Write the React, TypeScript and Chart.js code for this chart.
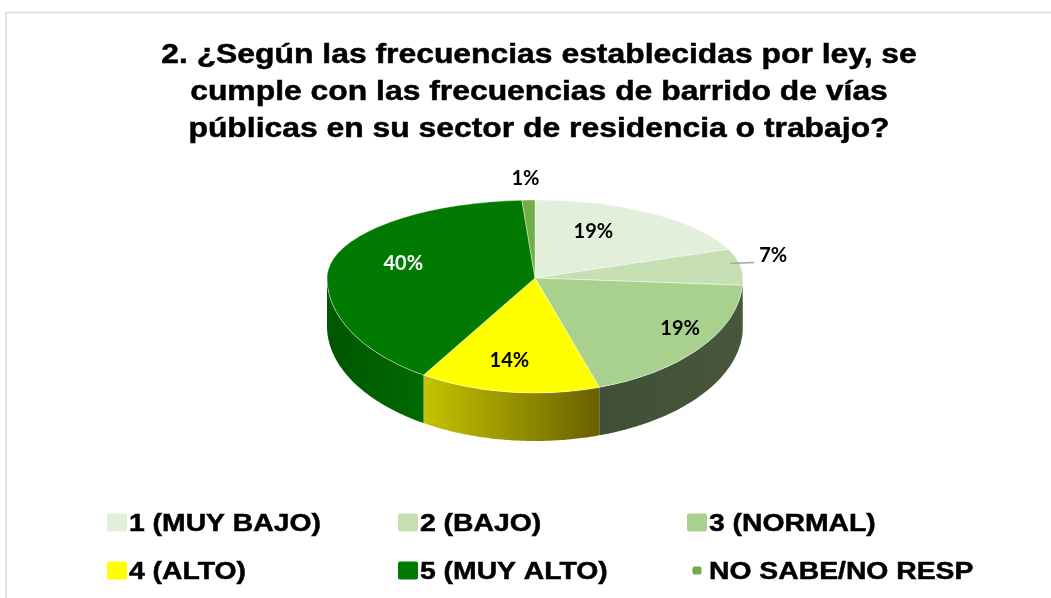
import React, { useEffect, useRef } from "react";
import { Chart, registerables } from "chart.js";

Chart.register(...registerables);

// ---------- data ----------
const TITLE_LINES = [
  "2. ¿Según las frecuencias establecidas por ley, se",
  "cumple con las frecuencias de barrido de vías",
  "públicas en su sector de residencia o trabajo?",
];
const categories = [
  "1 (MUY BAJO)",
  "2 (BAJO)",
  "3 (NORMAL)",
  "4 (ALTO)",
  "5 (MUY ALTO)",
  "NO SABE/NO RESP",
];
const percentages = [19, 7, 19, 14, 40, 1];

// ---------- styles ----------
const sliceColors = ["#E2EFDA", "#C6E0B4", "#A9D18E", "#FFFF00", "#007A00", "#70AD47"];
const sideColors = [
  ["#b9c7b0", "#b9c7b0"],
  ["#56664b", "#56664b"],
  ["#3f5036", "#46573c"],
  ["#c4c400", "#6a6000"],
  ["#005600", "#006a00"],
  ["#3f6a26", "#3f6a26"],
];
const labelColors = ["#000", "#000", "#000", "#000", "#fff", "#000"];
const legendKeyScale = [1, 1, 1, 1, 1, 0.45];

const W = 1051;
const H = 598;
const CX = 535;
const CY = 278;
const RX = 208;
const RY_UP = 78;
const RY_DOWN = 115;
const DEPTH = 48;
const STRETCH = 1.18;
const PERSPECTIVE = 0.37;

const pie3d = {
  id: "pie3d",
  beforeDraw(chart: any) {
    const ctx = chart.ctx;
    ctx.save();
    ctx.strokeStyle = "#d9d9d9";
    ctx.lineWidth = 1.5;
    ctx.beginPath();
    ctx.moveTo(6, H);
    ctx.lineTo(6, 12.5);
    ctx.lineTo(W, 12.5);
    ctx.stroke();
    ctx.restore();
  },
  beforeDatasetsDraw(chart: any) {
    const ctx = chart.ctx;
    const meta = chart.getDatasetMeta(0);
    const arcs = meta.data as any[];
    if (!arcs.length) return;
    const a0 = arcs[0];
    const R = a0.outerRadius;
    const ox = a0.x;
    const oy = a0.y;

    // side walls (front half only)
    arcs.forEach((arc: any, i: number) => {
      const s = Math.max(arc.startAngle, 0);
      const e = Math.min(arc.endAngle, Math.PI);
      if (e <= s) return;
      const n = 80;
      ctx.save();
      ctx.beginPath();
      for (let k = 0; k <= n; k++) {
        const t = s + ((e - s) * k) / n;
        const x = CX + RX * Math.cos(t);
        const y = CY + RY_DOWN * Math.sin(t);
        if (k === 0) ctx.moveTo(x, y);
        else ctx.lineTo(x, y);
      }
      for (let k = n; k >= 0; k--) {
        const t = s + ((e - s) * k) / n;
        ctx.lineTo(CX + RX * Math.cos(t), CY + RY_DOWN * Math.sin(t) + DEPTH);
      }
      ctx.closePath();
      const xa = CX + RX * Math.cos(s);
      const xb = CX + RX * Math.cos(e);
      const left = Math.min(xa, xb);
      const right = Math.max(xa, xb);
      const g = ctx.createLinearGradient(left, 0, right + 0.01, 0);
      g.addColorStop(0, sideColors[i][0]);
      g.addColorStop(1, sideColors[i][1]);
      ctx.fillStyle = g;
      ctx.fill();
      ctx.restore();
    });

    // top face, drawn by the controller in two squashed halves
    const pass = (y0: number, y1: number, ry: number) => {
      ctx.save();
      ctx.beginPath();
      ctx.rect(0, y0, W, y1 - y0);
      ctx.clip();
      ctx.translate(CX, CY);
      ctx.scale(RX / R, ry / R);
      ctx.translate(-ox, -oy);
      meta.controller.draw();
      ctx.restore();
    };
    pass(0, CY, RY_UP);
    pass(CY, H, RY_DOWN);
    return false;
  },
  afterDraw(chart: any) {
    const ctx = chart.ctx;
    const meta = chart.getDatasetMeta(0);
    const arcs = meta.data as any[];
    const values = chart.data.datasets[0].data as number[];
    const total = values.reduce((a: number, b: number) => a + b, 0);

    // data labels
    ctx.save();
    ctx.font = "bold 20px Lato";
    ctx.textBaseline = "middle";
    arcs.forEach((arc: any, i: number) => {
      const mid = (arc.startAngle + arc.endAngle) / 2;
      const c = Math.cos(mid);
      const s = Math.sin(mid);
      const ry = s < 0 ? RY_UP : RY_DOWN;
      const frac = values[i] / total;
      const txt = Math.round(frac * 100) + "%";
      if (frac >= 0.1) {
        ctx.fillStyle = labelColors[i];
        ctx.textAlign = "center";
        const px = 1 + PERSPECTIVE * s;
        ctx.fillText(txt, CX + RX * 0.72 * c * px, CY + ry * 0.72 * s);
      } else if (c > 0.5) {
        const x0 = CX + RX * 0.95 * c;
        const y0 = CY + ry * 0.95 * s - 3;
        ctx.strokeStyle = "#a6a6a6";
        ctx.lineWidth = 1.5;
        ctx.beginPath();
        ctx.moveTo(x0, y0);
        ctx.lineTo(x0 + 24, y0 - 1);
        ctx.stroke();
        ctx.fillStyle = "#000";
        ctx.textAlign = "left";
        ctx.fillText(txt, x0 + 29, y0 - 8);
      } else {
        ctx.fillStyle = "#000";
        ctx.textAlign = "center";
        ctx.fillText(txt, CX + RX * c - 3, CY + ry * s - 21);
      }
    });
    ctx.restore();

    // title
    ctx.save();
    ctx.fillStyle = "#000";
    ctx.strokeStyle = "#000";
    ctx.lineWidth = 0.5;
    ctx.font = 'bold 27px "Liberation Sans"';
    ctx.textAlign = "center";
    ctx.textBaseline = "alphabetic";
    const baselines = [63, 100, 137];
    TITLE_LINES.forEach((line, i) => {
      ctx.save();
      ctx.translate(539, baselines[i]);
      ctx.scale(STRETCH, 1);
      ctx.fillText(line, 0, 0);
      ctx.strokeText(line, 0, 0);
      ctx.restore();
    });
    ctx.restore();

    // legend
    const cols = [107, 398, 687];
    const rows = [531, 579];
    ctx.save();
    ctx.font = 'bold 24px "Liberation Sans"';
    ctx.textAlign = "left";
    ctx.textBaseline = "alphabetic";
    ctx.strokeStyle = "#000";
    ctx.lineWidth = 0.5;
    (chart.data.labels as string[]).forEach((lab: string, i: number) => {
      const bx = cols[i % 3];
      const by = rows[Math.floor(i / 3)];
      const kw = 20 * legendKeyScale[i];
      const kh = 18 * legendKeyScale[i];
      const kx = bx + (20 - kw) / 2;
      const ky = by - 17 + (18 - kh) / 2 - 0.5;
      ctx.fillStyle = sliceColors[i];
      ctx.beginPath();
      if ((ctx as any).roundRect) (ctx as any).roundRect(kx, ky, kw, kh, 2);
      else ctx.rect(kx, ky, kw, kh);
      ctx.fill();
      ctx.fillStyle = "#000";
      ctx.save();
      ctx.translate(bx + 22, by);
      ctx.scale(STRETCH, 1);
      ctx.fillText(lab, 0, 0);
      ctx.strokeText(lab, 0, 0);
      ctx.restore();
    });
    ctx.restore();
  },
};

export default function App() {
  const ref = useRef<HTMLCanvasElement>(null);
  useEffect(() => {
    const chart = new Chart(ref.current as HTMLCanvasElement, {
      type: "pie",
      data: {
        labels: categories,
        datasets: [
          {
            data: percentages,
            backgroundColor: sliceColors,
            borderColor: "rgba(255,255,255,0.8)",
            borderWidth: 1,
          },
        ],
      },
      options: {
        responsive: false,
        animation: false,
        devicePixelRatio: 1,
        events: [],
        layout: { padding: 0 },
        plugins: {
          legend: { display: false },
          title: { display: false },
          tooltip: { enabled: false },
        },
      },
      plugins: [pie3d],
    } as any);
    return () => chart.destroy();
  }, []);
  return (
    <div style={{ position: "fixed", left: 0, top: 0, width: W, height: H, background: "#fff" }}>
      <canvas ref={ref} width={W} height={H} style={{ display: "block", width: W, height: H }} />
    </div>
  );
}
